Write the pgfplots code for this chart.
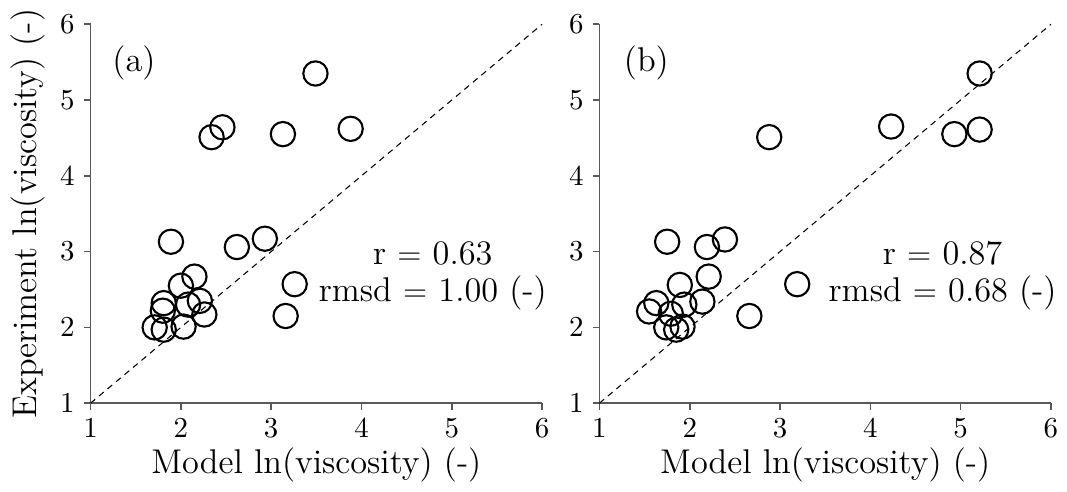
\documentclass[border=0pt]{standalone}
\usepackage{pgfplots}
\pgfplotsset{compat=1.18}
\pgfplotstableread{
x y
3.49 5.35
2.46 4.64
2.34 4.51
3.13 4.55
3.88 4.62
1.89 3.13
2.62 3.06
2.93 3.17
3.26 2.57
3.16 2.15
2.15 2.67
2.00 2.55
1.81 2.32
1.80 2.22
2.08 2.30
2.21 2.35
2.26 2.17
1.71 2.00
1.81 1.97
2.03 2.01
}\dataA
\pgfplotstableread{
x y
5.21 5.35
2.88 4.51
4.23 4.65
4.93 4.55
5.21 4.61
1.75 3.13
2.19 3.06
2.39 3.16
3.19 2.57
2.66 2.15
2.21 2.67
1.89 2.56
1.63 2.32
1.55 2.21
1.94 2.30
2.14 2.34
1.79 2.18
1.74 2.00
1.85 1.97
1.92 2.01
}\dataB
\pgfplotsset{
  myax/.style={
    scale only axis, width=171pt, height=143.5pt,
    xmin=1, xmax=6, ymin=1, ymax=6,
    xtick={1,...,6}, ytick={1,...,6},
    axis x line=bottom, axis y line=left,
    axis line style={-, black!65, line width=0.7pt},
    tick style={black!65, line width=0.6pt},
    tick align=outside, major tick length=2.5pt,
    tick label style={font=\fontsize{11}{13}\selectfont},
    label style={font=\fontsize{13}{15}\selectfont},
    xlabel={Model ln(viscosity) (-)},
    xlabel style={yshift=3pt},
    clip=false,
  },
  circ/.style={only marks, mark=o, mark size=4.6pt, mark options={line width=0.8pt, black}},
}
\begin{document}
\begin{tikzpicture}
\begin{axis}[myax, at={(0,0)}, ylabel={Experiment ln(viscosity) (-)}, ylabel style={yshift=-1pt}]
\addplot[black, dashed, dash pattern=on 2.3pt off 1.9pt, line width=0.4pt] coordinates {(1,1) (6,6)};
\addplot[circ] table[x=x,y=y] {\dataA};
\node[font=\fontsize{13}{15}\selectfont] at (axis cs:1.48,5.49) {(a)};
\node[font=\fontsize{13}{14}\selectfont, align=center] at (axis cs:4.79,2.68) {r $=$ 0.63\\rmsd $=$ 1.00 (-)};
\path (axis cs:1,6) ++(0,9pt) coordinate (topmark);
\end{axis}
\begin{axis}[myax, at={(192.7pt,0)}]
\addplot[black, dashed, dash pattern=on 2.3pt off 1.9pt, line width=0.4pt] coordinates {(1,1) (6,6)};
\addplot[circ] table[x=x,y=y] {\dataB};
\node[font=\fontsize{13}{15}\selectfont] at (axis cs:1.52,5.49) {(b)};
\node[font=\fontsize{13}{14}\selectfont, align=center] at (axis cs:4.80,2.68) {r $=$ 0.87\\rmsd $=$ 0.68 (-)};
\end{axis}
\path (topmark) circle (0.1pt);
\end{tikzpicture}
\end{document}
